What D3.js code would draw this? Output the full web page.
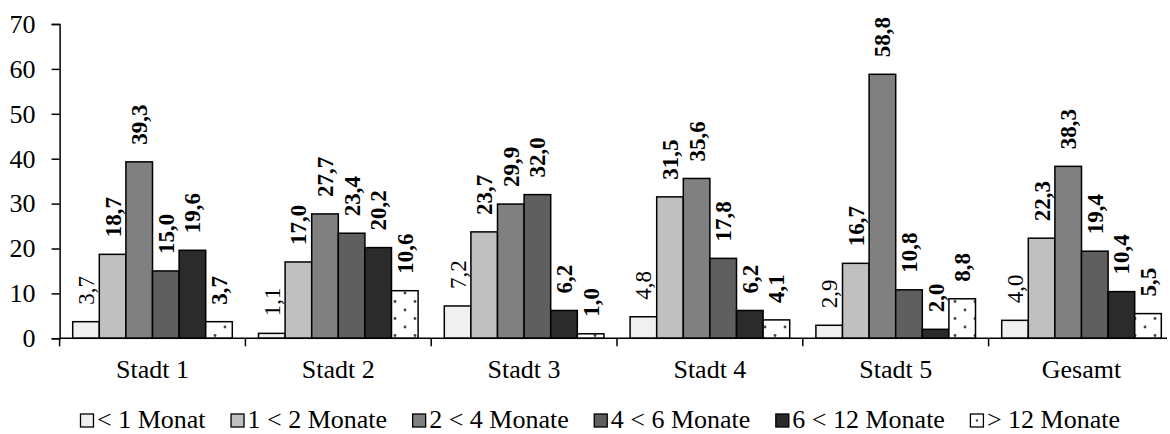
<!DOCTYPE html>
<html><head><meta charset="utf-8">
<script src="https://cdn.jsdelivr.net/npm/d3@7"></script>
<style>body{margin:0;background:#fff}svg{display:block}
svg text{font-family:"Liberation Serif";}
</style>
</head><body>
<svg id="c" width="1170" height="434"></svg>
<script>
const categories = ["Stadt 1","Stadt 2","Stadt 3","Stadt 4","Stadt 5","Gesamt"];
const seriesNames = ["< 1 Monat","1 < 2 Monate","2 < 4 Monate","4 < 6 Monate","6 < 12 Monate","> 12 Monate"];
const s1 = [3.7, 1.1, 7.2, 4.8, 2.9, 4.0];
const s2 = [18.7, 17.0, 23.7, 31.5, 16.7, 22.3];
const s3 = [39.3, 27.7, 29.9, 35.6, 58.8, 38.3];
const s4 = [15.0, 23.4, 32.0, 17.8, 10.8, 19.4];
const s5 = [19.6, 20.2, 6.2, 6.2, 2.0, 10.4];
const s6 = [3.7, 10.6, 1.0, 4.1, 8.8, 5.5];
const yTicks = [0,10,20,30,40,50,60,70];

const series = [s1,s2,s3,s4,s5,s6];
const fills = ["#f0f0f0","#c0c0c0","#808080","#5f5f5f","#2b2b2b","url(#dots)"];
const bold = [false,true,true,true,true,true];
const FONT = "Liberation Serif";

const svg = d3.select("#c");
const defs = svg.append("defs");
const pat = defs.append("pattern").attr("id","dots").attr("patternUnits","userSpaceOnUse")
  .attr("width",20).attr("height",17);
pat.append("rect").attr("width",20).attr("height",17).attr("fill","#fff");
pat.append("circle").attr("cx",5).attr("cy",4).attr("r",1.4).attr("fill","#444");
pat.append("circle").attr("cx",15).attr("cy",12.5).attr("r",1.4).attr("fill","#444");

const x0 = 59.6, step = 185.8;
const x = d3.scaleBand().domain(categories).range([x0, x0 + step*categories.length]).padding(0);
const xi = d3.scaleBand().domain(d3.range(series.length)).range([13.1, step-13.1]).padding(0);
const y = d3.scaleLinear().domain([0,70]).range([338.3, 24]);

// y axis
const yAxis = svg.append("g").attr("transform",`translate(${x0},0)`)
  .call(d3.axisLeft(y).tickValues(yTicks).tickSize(8).tickPadding(16).tickFormat(d3.format("d")));
yAxis.attr("font-family",null).attr("font-size",null);
yAxis.selectAll("path").attr("stroke","#000").attr("stroke-width",1.5);
yAxis.selectAll("line").attr("stroke","#000").attr("stroke-width",1.5);
yAxis.selectAll("text").style("font-family",FONT).style("font-size","26px").attr("fill","#000");

// bars
categories.forEach((c,ci)=>{
  series.forEach((s,si)=>{
    const v = s[ci];
    const bx = x(c) + xi(si);
    svg.append("rect").attr("x",bx).attr("y",y(v)).attr("width",xi.bandwidth()).attr("height",y(0)-y(v))
      .attr("fill",fills[si]).attr("stroke","#000").attr("stroke-width",1.5);
    const cx = bx + xi.bandwidth()/2;
    svg.append("text").attr("transform",`translate(${cx},${y(v)-17}) rotate(-90)`)
      .attr("dy","0.35em").attr("text-anchor","start")
      .style("font-family",FONT).style("font-size","23px").style("font-weight",bold[si]?"bold":"normal")
      .attr("fill","#000").text(d3.format(".1f")(v).replace(".",","));
  });
});

// x axis
const xAxis = svg.append("g").attr("transform",`translate(0,${y(0)})`);
xAxis.append("line").attr("x1",x0).attr("x2",1167).attr("y1",0).attr("y2",0).attr("stroke","#000").attr("stroke-width",1.5);
categories.concat(["_end"]).forEach((c,i)=>{
  const tx = x0 + i*step;
  xAxis.append("line").attr("x1",tx).attr("x2",tx).attr("y1",0).attr("y2",8).attr("stroke","#000").attr("stroke-width",1.5);
});
categories.forEach(c=>{
  xAxis.append("text").attr("x",x(c)+x.bandwidth()/2).attr("y",40).attr("text-anchor","middle")
    .style("font-family",FONT).style("font-size","26px").attr("fill","#000").text(c);
});

// legend
const leg = svg.append("g");
let lx = 0;
seriesNames.forEach((n,i)=>{
  const g = leg.append("g").attr("transform",`translate(${lx},0)`);
  g.append("rect").attr("x",0.5).attr("y",-14).attr("width",13).attr("height",13)
    .attr("fill",i===5?"#fff":fills[i]).attr("stroke","#000").attr("stroke-width",1.3);
  if(i===5) g.append("circle").attr("cx",7).attr("cy",-7.5).attr("r",1.2).attr("fill","#444");
  const t = g.append("text").attr("x",17).attr("y",0)
    .style("font-family",FONT).style("font-size","26px").attr("fill","#000").text(n);
  lx += 17 + t.node().getComputedTextLength() + (i<seriesNames.length-1?25:0);
});
leg.attr("transform",`translate(${600 - lx/2},428)`);
</script>
</body></html>
